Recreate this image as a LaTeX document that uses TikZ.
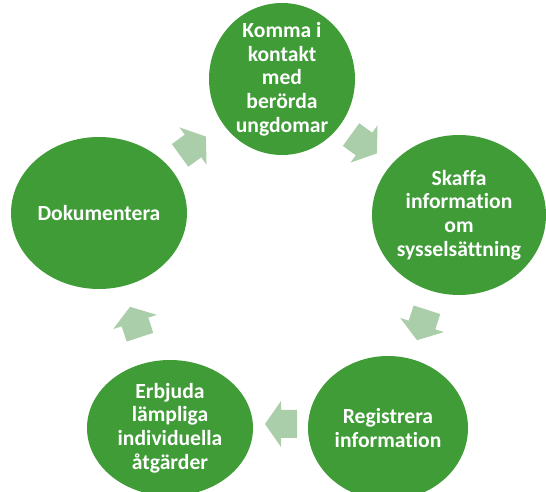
\documentclass[tikz,border=0pt]{standalone}
\usepackage{fontspec}
\setmainfont{Carlito}[Ligatures=NoCommon]
\usetikzlibrary{shapes.geometric}
\definecolor{nodegreen}{RGB}{63,156,55}
\definecolor{arrowgreen}{RGB}{171,206,170}
\begin{document}
\begin{tikzpicture}[x=1pt,y=1pt,
  stage/.style={ellipse, fill=nodegreen, draw=none, inner sep=0pt},
  stagetext/.style={text=white, font=\bfseries\fontsize{21.6}{23.7}\selectfont, align=center, inner sep=0pt},
  cyclearrow/.pic={\fill[arrowgreen] (-16,-14) -- (0,-14) -- (0,-23) -- (16,0) -- (0,23) -- (0,14) -- (-16,14) -- cycle;}]
\useasboundingbox (0,0) rectangle (546,492);
% stages
\node[stage, minimum width=146, minimum height=152] (n1) at (282,413) {};
\node[stage, minimum width=174, minimum height=160] (n2) at (459,277) {};
\node[stage, minimum width=160, minimum height=144] (n3) at (388,64) {};
\node[stage, minimum width=166, minimum height=136] (n4) at (170,64) {};
\node[stage, minimum width=176, minimum height=152] (n5) at (99,279) {};
\node[stagetext] (t1) at (n1) {Komma i\\kontakt\\med\\berörda\\ungdomar};
\node[stagetext] (t2) at (n2) {Skaffa\\information\\om\\sysselsättning};
\node[stagetext] (t3) at (n3) {Registrera\\information};
\node[stagetext] (t4) at (n4) {Erbjuda\\lämpliga\\individuella\\åtgärder};
\node[stagetext] (t5) at (n5) {Dokumentera};
% cycle arrows
\pic[rotate=36] (a1) at (193,346) {cyclearrow};
\pic[rotate=-36] (a2) at (364,348) {cyclearrow};
\pic[rotate=-108] (a3) at (422,167) {cyclearrow};
\pic[rotate=180] (a4) at (281,68) {cyclearrow};
\pic[rotate=108] (a5) at (135,170) {cyclearrow};
\end{tikzpicture}
\end{document}
